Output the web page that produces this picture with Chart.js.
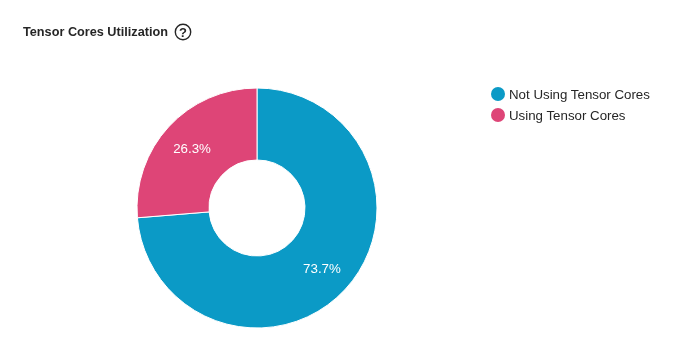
<!DOCTYPE html>
<html>

<head>
    <title>Tensor Cores Utilization</title>
    <script src="https://cdn.jsdelivr.net/npm/chart.js"></script>
    <style>
        html, body {
            margin: 0;
            padding: 0;
            background-color: #fff;
            font-family: "Liberation Sans", Arial, sans-serif;
            overflow: hidden;
        }

        #wrap {
            position: relative;
            width: 681px;
            height: 361px;
        }

        #chart {
            position: absolute;
            left: 0;
            top: 0;
        }

        #title {
            position: absolute;
            left: 23px;
            top: 25px;
            font-size: 12.7px;
            line-height: 15px;
            font-weight: bold;
            color: #262626;
        }

        #help {
            position: absolute;
            left: 174px;
            top: 23px;
        }

        #legend {
            position: absolute;
            left: 491px;
            top: 84px;
            font-size: 13.3px;
            color: #262626;
        }

        #legend div {
            height: 21px;
            line-height: 21px;
            white-space: nowrap;
        }

        #legend span {
            display: inline-block;
            width: 14px;
            height: 14px;
            border-radius: 50%;
            margin-right: 4px;
            vertical-align: -2px;
        }
    </style>
</head>

<body>
    <div id="wrap">
        <canvas id="chart" width="681" height="361"></canvas>
        <div id="title">Tensor Cores Utilization</div>
        <svg id="help" width="18" height="18" viewBox="0 0 18 18">
            <circle cx="9" cy="9" r="7.7" fill="none" stroke="#262626" stroke-width="1.4"></circle>
            <text x="9" y="13.5" text-anchor="middle" font-size="13" font-weight="bold" fill="#262626" font-family="Liberation Sans">?</text>
        </svg>
        <div id="legend"></div>
    </div>

    <script>
        const categories = ['Not Using Tensor Cores', 'Using Tensor Cores'];
        const values = [73.7, 26.3];
        const colors = ['#0b9ac6', '#de4577'];

        // Build the legend from the same arrays as the chart
        const legend = document.getElementById('legend');
        categories.forEach((name, i) => {
            const row = document.createElement('div');
            const dot = document.createElement('span');
            dot.style.backgroundColor = colors[i];
            row.appendChild(dot);
            row.appendChild(document.createTextNode(name));
            legend.appendChild(row);
        });

        // Percent labels inside each slice
        const sliceLabels = {
            id: 'sliceLabels',
            afterDatasetsDraw(chart) {
                const ctx = chart.ctx;
                ctx.save();
                ctx.font = '13.3px "Liberation Sans", Arial, sans-serif';
                ctx.fillStyle = '#fff';
                ctx.textAlign = 'center';
                ctx.textBaseline = 'middle';
                chart.getDatasetMeta(0).data.forEach((arc, i) => {
                    const mid = (arc.startAngle + arc.endAngle) / 2;
                    const r = arc.innerRadius + (arc.outerRadius - arc.innerRadius) * 0.56;
                    ctx.fillText(values[i].toFixed(1) + '%', arc.x + Math.cos(mid) * r, arc.y + Math.sin(mid) * r + 1);
                });
                ctx.restore();
            }
        };

        new Chart(document.getElementById('chart').getContext('2d'), {
            type: 'doughnut',
            data: {
                labels: categories,
                datasets: [{
                    data: values,
                    backgroundColor: colors,
                    borderColor: '#fff',
                    borderWidth: 1
                }]
            },
            options: {
                responsive: false,
                animation: false,
                cutout: '40%',
                layout: {
                    padding: { left: 136.5, right: 303.5, top: 87.5, bottom: 32.5 }
                },
                plugins: {
                    legend: { display: false },
                    tooltip: { enabled: false }
                }
            },
            plugins: [sliceLabels]
        });
    </script>
</body>

</html>
